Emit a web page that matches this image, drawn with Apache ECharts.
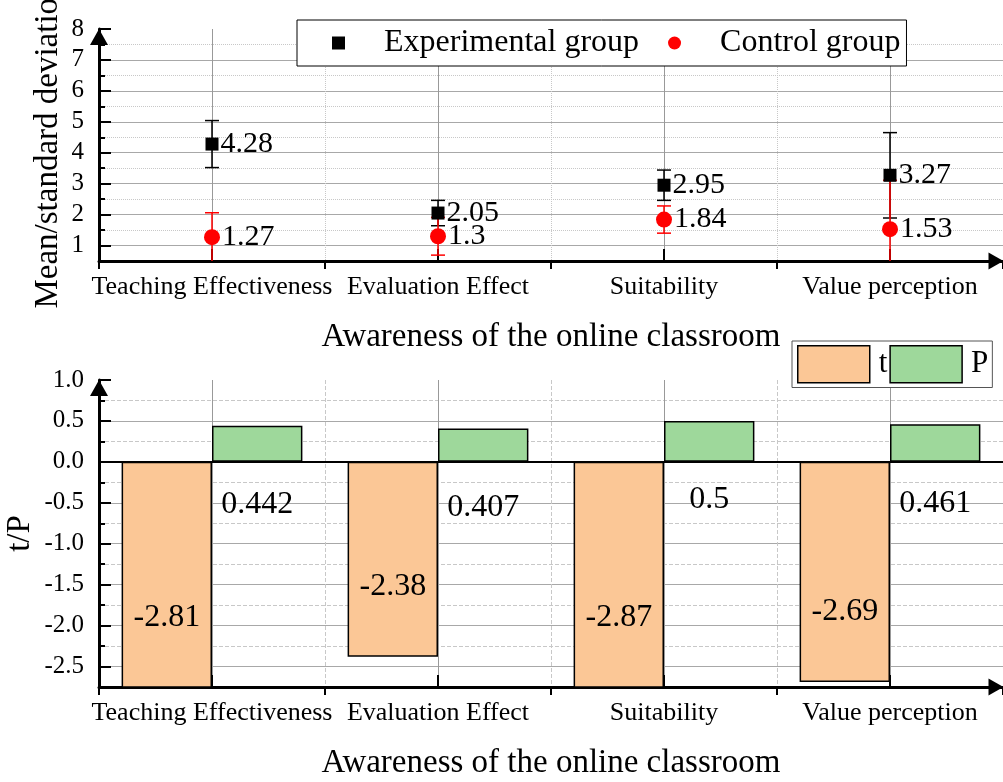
<!DOCTYPE html>
<html>
<head>
<meta charset="utf-8">
<title>Awareness of the online classroom</title>
<script src="https://cdn.jsdelivr.net/npm/echarts@6/dist/echarts.min.js"></script>
<style>
  html, body { margin: 0; padding: 0; background: #fff; }
  #chart { width: 1003px; height: 782px; }
</style>
</head>
<body>
<div id="chart"></div>
<script>
// data
var categories = ['Teaching Effectiveness', 'Evaluation Effect', 'Suitability', 'Value perception'];
var expMean = [4.28, 2.05, 2.95, 3.27];
var expSd = [0.76, 0.41, 0.49, 1.38];
var ctrlMean = [1.27, 1.3, 1.84, 1.53];
var ctrlSd = [0.79, 0.61, 0.44, 1.58];
var tValues = [-2.81, -2.38, -2.87, -2.69];
var pValues = [0.442, 0.407, 0.5, 0.461];

var FONT = '"Liberation Serif", "Times New Roman", serif';

function errRows(mean, sd) {
    return mean.map(function (m, i) { return [i, m - sd[i], m + sd[i]]; });
}

function errorBar(color) {
    return function (params, api) {
        var cs = params.coordSys;
        var x = api.coord([api.value(0), api.value(1)])[0];
        var lo = api.coord([api.value(0), api.value(1)])[1];
        var hi = api.coord([api.value(0), api.value(2)])[1];
        var top = Math.max(hi, cs.y);
        var bottom = Math.min(lo, cs.y + cs.height);
        var st = { stroke: color, lineWidth: 1.5 };
        var kids = [{ type: 'line', shape: { x1: x, y1: top, x2: x, y2: bottom }, style: st }];
        if (hi >= cs.y) kids.push({ type: 'line', shape: { x1: x - 7, y1: hi, x2: x + 7, y2: hi }, style: st });
        if (lo <= cs.y + cs.height) kids.push({ type: 'line', shape: { x1: x - 7, y1: lo, x2: x + 7, y2: lo }, style: st });
        return { type: 'group', children: kids };
    };
}

var axisLineStyle = { color: '#000', width: 3 };

function catAxes(grid, minorType) {
    return [
        {
            gridIndex: grid, type: 'category', data: categories, position: 'bottom',
            axisLine: { onZero: false, lineStyle: axisLineStyle, symbol: ['none', 'triangle'], symbolSize: [17, 15], symbolOffset: [0, -7] },
            axisTick: { show: true, inside: false, length: 8, lineStyle: { color: '#000', width: 2 } },
            axisLabel: { fontSize: 26, fontFamily: FONT, color: '#000', margin: 13, interval: 0 },
            splitLine: { show: true, lineStyle: { color: '#c8c8c8', type: minorType, width: 1 } },
            name: 'Awareness of the online classroom', nameLocation: 'middle', nameGap: 60,
            nameTextStyle: { fontSize: 33, fontFamily: FONT, color: '#000' }
        },
        {
            gridIndex: grid, type: 'category', data: categories, position: 'bottom',
            axisLine: { show: false, onZero: false },
            axisTick: { show: true, inside: true, length: 12, alignWithLabel: true, lineStyle: { color: '#000', width: 2 } },
            axisLabel: { show: false },
            splitLine: { show: true, alignWithLabel: true, lineStyle: { color: '#999', width: 1 } }
        }
    ];
}

function valAxes(grid, min, max, minorStep, minorType, name, nameGap, fmt) {
    return [
        {
            gridIndex: grid, type: 'value', min: min, max: max, interval: minorStep, position: 'left',
            axisLine: { show: true, onZero: false, lineStyle: axisLineStyle, symbol: ['none', 'triangle'], symbolSize: [18, 16], symbolOffset: [0, -8] },
            axisTick: { show: true, inside: true, length: 6, lineStyle: { color: '#000', width: 2 } },
            axisLabel: { show: false },
            splitLine: { show: true, showMinLine: false, showMaxLine: false, lineStyle: { color: '#c8c8c8', type: minorType, width: 1 } },
            name: name, nameLocation: 'middle', nameGap: nameGap,
            nameTextStyle: { fontSize: 33, fontFamily: FONT, color: '#000' }
        },
        {
            gridIndex: grid, type: 'value', min: min, max: max, splitNumber: 8, position: 'left',
            axisLine: { show: false, onZero: false },
            axisTick: { show: true, inside: true, length: 12, lineStyle: { color: '#000', width: 2 } },
            axisLabel: { fontSize: 25, fontFamily: FONT, color: '#000', margin: 15, showMinLabel: false, formatter: fmt },
            splitLine: { show: true, showMinLine: false, showMaxLine: false, lineStyle: { color: '#a8a8a8', width: 1 } }
        }
    ];
}

var chart = echarts.init(document.getElementById('chart'));
chart.setOption({
    animation: false,
    backgroundColor: '#fff',
    grid: [
        { left: 99, right: 0, top: 29, height: 232, containLabel: false, outerBoundsMode: 'none' },
        { left: 99, right: 0, top: 380, height: 307, containLabel: false, outerBoundsMode: 'none' }
    ],
    legend: [
        {
            data: [{ name: 'Experimental group', icon: 'rect' }, { name: 'Control group', icon: 'circle' }],
            left: 297, top: 20, orient: 'horizontal',
            padding: [7, 6, 7, 35], itemWidth: 13, itemHeight: 13, itemGap: 29,
            backgroundColor: '#fff', borderColor: '#000', borderWidth: 1,
            textStyle: { fontSize: 32, fontFamily: FONT, color: '#000', padding: [0, 0, 0, 34] }
        },
        {
            data: [{ name: 't', icon: 'rect' }, { name: 'P', icon: 'rect' }],
            left: 792, top: 341, orient: 'horizontal',
            padding: [4, 4, 4, 5], itemWidth: 72, itemHeight: 37, itemGap: 2,
            backgroundColor: '#fff', borderColor: '#555', borderWidth: 1,
            itemStyle: { borderColor: '#000', borderWidth: 1.5 },
            textStyle: { fontSize: 31, fontFamily: FONT, color: '#000', padding: [0, 0, 0, 4] }
        }
    ],
    xAxis: catAxes(0, 'dotted').concat(catAxes(1, 'dashed')),
    yAxis: valAxes(0, 0.5, 8, 0.5, 'dotted', 'Mean/standard deviation', 34, null)
        .concat(valAxes(1, -2.75, 1, 0.25, 'dashed', 't/P', 62, function (v) { return v.toFixed(1); })),
    series: [
        {
            type: 'custom', xAxisIndex: 0, yAxisIndex: 0, z: 2,
            renderItem: errorBar('#000'), data: errRows(expMean, expSd), encode: { x: 0, y: [1, 2] }
        },
        {
            type: 'custom', xAxisIndex: 0, yAxisIndex: 0, z: 2,
            renderItem: errorBar('#ff0000'), data: errRows(ctrlMean, ctrlSd), encode: { x: 0, y: [1, 2] }
        },
        {
            name: 'Experimental group', type: 'scatter', xAxisIndex: 0, yAxisIndex: 0, z: 3,
            symbol: 'rect', symbolSize: 13, itemStyle: { color: '#000', opacity: 1 },
            label: { show: true, position: 'right', distance: 2, fontSize: 30, fontFamily: FONT, color: '#000' },
            data: expMean
        },
        {
            name: 'Control group', type: 'scatter', xAxisIndex: 0, yAxisIndex: 0, z: 3,
            symbol: 'circle', symbolSize: 16, itemStyle: { color: '#ff0000', opacity: 1 },
            label: { show: true, position: 'right', distance: 2, fontSize: 30, fontFamily: FONT, color: '#000' },
            data: ctrlMean
        },
        {
            name: 't', type: 'bar', xAxisIndex: 2, yAxisIndex: 2, barWidth: '40%', barGap: '0%',
            itemStyle: { color: '#fbc796', borderColor: '#000', borderWidth: 1.5 },
            label: { show: true, position: 'insideBottom', distance: 54, fontSize: 32, fontFamily: FONT, color: '#000' },
            markLine: {
                silent: true, symbol: 'none', label: { show: false },
                lineStyle: { color: '#000', width: 2, type: 'solid' },
                data: [{ yAxis: 0 }]
            },
            data: tValues
        },
        {
            name: 'P', type: 'bar', xAxisIndex: 2, yAxisIndex: 2, barWidth: '40%', barGap: '0%',
            itemStyle: { color: '#9ed89b', borderColor: '#000', borderWidth: 1.5 },
            label: { show: true, position: 'insideTop', distance: 63, fontSize: 32, fontFamily: FONT, color: '#000' },
            data: pValues
        }
    ]
});
</script>
</body>
</html>
